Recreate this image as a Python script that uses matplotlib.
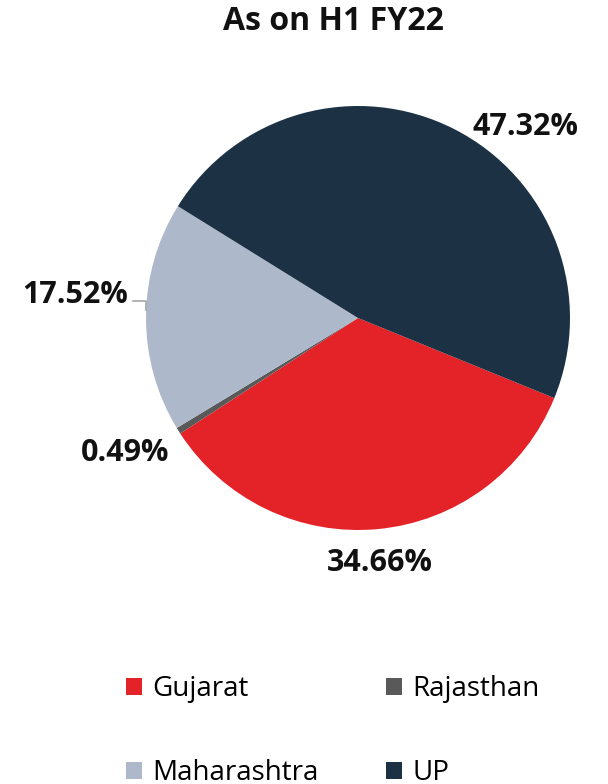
import matplotlib.pyplot as plt
from matplotlib.patches import Patch

plt.rcParams['font.family'] = ['Open Sans', 'DejaVu Sans']

states = ['Gujarat', 'Rajasthan', 'Maharashtra', 'UP']
shares = [34.66, 0.49, 17.52, 47.32]
labels = ['34.66%', '0.49%', '17.52%', '47.32%']
colors = ['#e32328', '#595959', '#adb9ca', '#1c3144']

# label spots around the pie (data units, radius = 1)
label_pos = [(0.104, -1.156), (-1.099, -0.636), (-1.335, 0.108), (0.792, 0.901)]

fig = plt.figure(figsize=(6.08, 7.84), dpi=100)
ax = fig.add_axes([146 / 608, 1 - 530 / 784, 424 / 608, 424 / 784])

ax.pie(shares, colors=colors, startangle=-22.2, counterclock=False,
       radius=1, wedgeprops=dict(linewidth=0))
ax.set_xlim(-1, 1)
ax.set_ylim(-1, 1)
ax.set_aspect('auto')
ax.axis('off')

for (x, y), lab in zip(label_pos, labels):
    ax.text(x, y, lab, ha='center', va='center', fontsize=22,
            fontweight='bold', color='#111111', clip_on=False)

# leader line for Maharashtra
ax.plot([-1.061, -1.0, -1.0], [0.080, 0.080, 0.038], color='#a6a6a6',
        lw=1.2, clip_on=False)

fig.text(333 / 608, 1 - 22 / 784, 'As on H1 FY22', ha='center', va='center',
         fontsize=23, fontweight='bold', color='#111111')

order = [0, 2, 1, 3]
handles = [Patch(facecolor=colors[i], edgecolor='none') for i in order]
fig.legend(handles, [states[i] for i in order], ncol=2, frameon=False,
           fontsize=20, handlelength=0.58, handleheight=0.58,
           handletextpad=0.38, columnspacing=2.4, labelspacing=2.0,
           loc='lower left', bbox_to_anchor=(101 / 608, -28 / 784))

fig.savefig('out.png', dpi=100)
